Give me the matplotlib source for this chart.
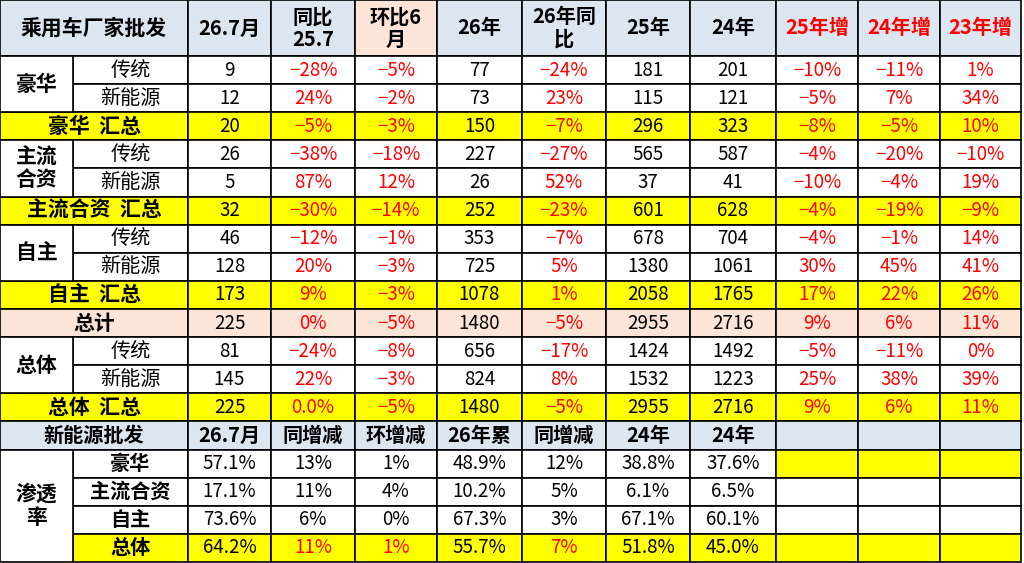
import matplotlib.pyplot as plt
from matplotlib.patches import Rectangle

plt.rcParams['font.family'] = ['Noto Sans CJK SC', 'DejaVu Sans']

# column edges (pixels)
col_x = [0, 73, 188, 271, 355, 437, 522, 606, 690, 776, 858, 940, 1021]
header_h = 56
row_h = (562 - header_h) / 18

headers = ['26.7月', '同比\n25.7', '环比6\n月', '26年', '26年同\n比', '25年', '24年', '25年增', '24年增', '23年增']

sub_labels = ['传统', '新能源']
rows = [
    ['9', '−28%', '−5%', '77', '−24%', '181', '201', '−10%', '−11%', '1%'],
    ['12', '24%', '−2%', '73', '23%', '115', '121', '−5%', '7%', '34%'],
    ['20', '−5%', '−3%', '150', '−7%', '296', '323', '−8%', '−5%', '10%'],
    ['26', '−38%', '−18%', '227', '−27%', '565', '587', '−4%', '−20%', '−10%'],
    ['5', '87%', '12%', '26', '52%', '37', '41', '−10%', '−4%', '19%'],
    ['32', '−30%', '−14%', '252', '−23%', '601', '628', '−4%', '−19%', '−9%'],
    ['46', '−12%', '−1%', '353', '−7%', '678', '704', '−4%', '−1%', '14%'],
    ['128', '20%', '−3%', '725', '5%', '1380', '1061', '30%', '45%', '41%'],
    ['173', '9%', '−3%', '1078', '1%', '2058', '1765', '17%', '22%', '26%'],
    ['225', '0%', '−5%', '1480', '−5%', '2955', '2716', '9%', '6%', '11%'],
    ['81', '−24%', '−8%', '656', '−17%', '1424', '1492', '−5%', '−11%', '0%'],
    ['145', '22%', '−3%', '824', '8%', '1532', '1223', '25%', '38%', '39%'],
    ['225', '0.0%', '−5%', '1480', '−5%', '2955', '2716', '9%', '6%', '11%'],
]
summary_labels = {2: '豪华  汇总', 5: '主流合资  汇总', 8: '自主  汇总', 9: '总计', 12: '总体  汇总'}
group_start = {0: '豪华', 3: '主流\n合资', 6: '自主', 10: '总体'}

nev_headers = ['26.7月', '同增减', '环增减', '26年累', '同增减', '24年', '24年']
nev_labels = ['豪华', '主流合资', '自主', '总体']
nev_rows = [
    ['57.1%', '13%', '1%', '48.9%', '12%', '38.8%', '37.6%'],
    ['17.1%', '11%', '4%', '10.2%', '5%', '6.1%', '6.5%'],
    ['73.6%', '6%', '0%', '67.3%', '3%', '67.1%', '60.1%'],
    ['64.2%', '11%', '1%', '55.7%', '7%', '51.8%', '45.0%'],
]

HDR = '#dce6f1'
PEACH = '#fce4d6'
YEL = '#ffff00'
RED = '#ff0000'
fs = 13.5

fig = plt.figure(figsize=(10.24, 5.63), dpi=100)
ax = fig.add_axes([0, 0, 1, 1])
ax.set_xlim(0, 1024)
ax.set_ylim(563, 0)
ax.axis('off')


def cell(x0, x1, y0, y1, txt='', color='black', bg='white', bold=False, size=fs):
    ax.add_patch(Rectangle((x0, y0), x1 - x0, y1 - y0, facecolor=bg,
                           edgecolor='black', linewidth=1.2))
    if txt:
        ax.text((x0 + x1) / 2, (y0 + y1) / 2, txt, ha='center', va='center',
                color=color, fontsize=size, fontweight='bold' if bold else 'normal',
                linespacing=1.1)


# header
cell(col_x[0], col_x[2], 0, header_h, '乘用车厂家批发', bg=HDR, bold=True, size=15)
for j, h in enumerate(headers):
    bg = PEACH if j == 2 else HDR
    col = RED if j >= 7 else 'black'
    cell(col_x[j + 2], col_x[j + 3], 0, header_h, h, color=col, bg=bg, bold=True, size=14.5)

# upper body
for i, r in enumerate(rows):
    y0 = header_h + i * row_h
    y1 = y0 + row_h
    if i in summary_labels:
        bg = PEACH if i == 9 else YEL
        cell(col_x[0], col_x[2], y0, y1, summary_labels[i], bg=bg, bold=True, size=15)
    else:
        bg = 'white'
        cell(col_x[1], col_x[2], y0, y1, sub_labels[i % 3 if i < 9 else (i - 10)], size=14.5)
    for j, v in enumerate(r):
        col = RED if '%' in v else 'black'
        cell(col_x[j + 2], col_x[j + 3], y0, y1, v, color=col, bg=bg)
for i, g in group_start.items():
    y0 = header_h + i * row_h
    cell(col_x[0], col_x[1], y0, y0 + 2 * row_h, g, bold=True, size=15)

# NEV section
y0 = header_h + 13 * row_h
cell(col_x[0], col_x[2], y0, y0 + row_h, '新能源批发', bg=HDR, bold=True, size=14.5)
for j, h in enumerate(nev_headers):
    cell(col_x[j + 2], col_x[j + 3], y0, y0 + row_h, h, bg=HDR, bold=True, size=14.5)
for j in range(9, 12):
    cell(col_x[j], col_x[j + 1], y0, y0 + row_h, bg=HDR)
for i, (lab, r) in enumerate(zip(nev_labels, nev_rows)):
    ya = header_h + (14 + i) * row_h
    yb = ya + row_h
    last = i == 3
    bg = YEL if last else 'white'
    cell(col_x[1], col_x[2], ya, yb, lab, bg=bg, bold=True, size=14.5)
    for j, v in enumerate(r):
        col = RED if last and j in (1, 2, 4) else 'black'
        cell(col_x[j + 2], col_x[j + 3], ya, yb, v, color=col, bg=bg)
    for j in range(9, 12):
        cell(col_x[j], col_x[j + 1], ya, yb, bg=YEL if i in (0, 3) else 'white')
ya = header_h + 14 * row_h
cell(col_x[0], col_x[1], ya, ya + 4 * row_h, '渗透\n率', bold=True, size=15)

fig.savefig('out.png', dpi=100)
